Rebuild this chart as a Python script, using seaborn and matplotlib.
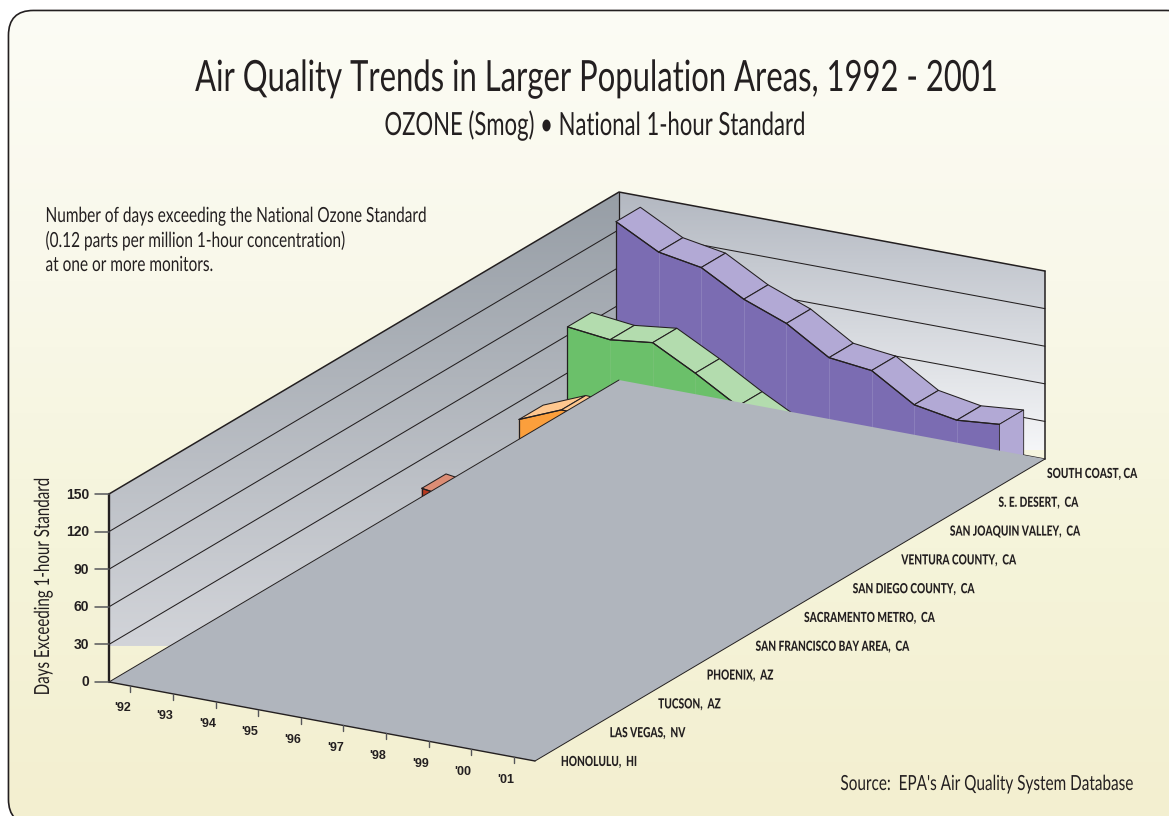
import numpy as np
import pandas as pd
import matplotlib.pyplot as plt
from matplotlib.patches import FancyBboxPatch, Polygon
from matplotlib.patheffects import AbstractPathEffect
from matplotlib.transforms import Affine2D
import seaborn as sns

sns.set_theme(style="white")
plt.rcParams["font.family"] = ["Lato", "DejaVu Sans"]

# Data, most of the chart hides behind the floor
years = ["'92", "'93", "'94", "'95", "'96", "'97", "'98", "'99", "'00", "'01"]
areas = ["HONOLULU,  HI", "LAS VEGAS,  NV", "TUCSON,  AZ", "PHOENIX,  AZ",
         "SAN FRANCISCO BAY AREA,  CA", "SACRAMENTO METRO,  CA", "SAN DIEGO COUNTY,  CA",
         "VENTURA COUNTY,  CA", "SAN JOAQUIN VALLEY,  CA", "S. E. DESERT,  CA", "SOUTH COAST, CA"]
day_ticks = [0, 30, 60, 90, 120, 150]

south_coast = [141, 123, 117, 98, 85, 64, 60, 39, 33, 36]
se_desert = [80, 76, 80, 62, 42, 24]
san_joaquin = [29, 43, 41]
san_diego = [20, 15]

INK = "#231f20"
bg_cmap = sns.blend_palette(["#fcfcf5", "#f9f8ea", "#f5f4da", "#f3efd0"], n_colors=256, as_cmap=True)
left_cmap = sns.blend_palette(["#979ea6", "#d2d4d9"], n_colors=256, as_cmap=True)
back_cmap = sns.blend_palette(["#b3b8c1", "#f5f6f8"], n_colors=256, as_cmap=True)
grad = np.linspace(0, 1, 256).reshape(-1, 1)


class Squeeze(AbstractPathEffect):
    # the original uses a condensed face, none is installed so narrow the text
    def __init__(self, k, frac):
        super().__init__()
        self.k = k
        self.frac = frac

    def draw_path(self, renderer, gc, tpath, affine, rgbFace=None):
        pivot = tpath.get_extents().x1 * self.frac
        squeeze = Affine2D().translate(-pivot, 0).scale(self.k, 1).translate(pivot, 0)
        renderer.draw_path(gc, tpath, squeeze + affine, rgbFace)


def narrow(x, y, s, width=None, k=None, frac=0.5, **kw):
    # x, y is where the visible text starts on its baseline, width its wanted length in pixels
    t = ax.text(x, y, s, va="baseline", rotation_mode="anchor", color=INK, **kw)
    box = t.get_window_extent(fig.canvas.get_renderer())
    w = max(box.width, box.height)
    if k is None:
        k = width / w
    t.set_ha({0: "left", 0.5: "center", 1: "right"}[frac])
    if kw.get("rotation"):
        t.set_y(y - k * w * frac)
    else:
        t.set_x(x + k * w * frac)
    t.set_path_effects([Squeeze(k, frac)])
    return k


def project(year, depth, days):
    # oblique view: year runs along the front, depth into the page, days upward
    x = 109 + 42.6 * np.asarray(year, float) + 48.57 * np.asarray(depth, float)
    y = 682 + 7.9 * np.asarray(year, float) - 28.76 * np.asarray(depth, float) - 1.2533 * np.asarray(days, float)
    return x, y


def poly(corners, **kw):
    pts = [project(*c) for c in corners]
    p = Polygon(pts, closed=True, **kw)
    ax.add_patch(p)
    return p


def ribbon(values, depth, face, top, line, z, cap=False):
    t = np.arange(len(values)) + 0.5
    vals = np.array(values, float)
    # front face
    front = [(a, depth, v) for a, v in zip(t, vals)] + [(t[-1], depth, 0), (t[0], depth, 0)]
    poly(front, facecolor=face, edgecolor="none", zorder=z)
    for a, v in zip(t[1:-1], vals[1:-1]):
        ax.plot(*zip(project(a, depth, v), project(a, depth, 0)), color=line, lw=0.7, zorder=z + 0.1)
    # top band
    for i in range(len(vals) - 1):
        poly([(t[i], depth, vals[i]), (t[i + 1], depth, vals[i + 1]),
              (t[i + 1], depth + 0.5, vals[i + 1]), (t[i], depth + 0.5, vals[i])],
             facecolor=top, edgecolor=INK, lw=0.75, zorder=z + 0.2)
    if cap:
        poly([(t[-1], depth, vals[-1]), (t[-1], depth + 0.5, vals[-1]),
              (t[-1], depth + 0.5, 0), (t[-1], depth, 0)], facecolor=top, edgecolor=INK, lw=0.6, zorder=z + 0.2)
    px, py = project(t, depth, vals)
    edge = pd.DataFrame({"px": px, "py": py})
    sns.lineplot(data=edge, x="px", y="py", sort=False, estimator=None, color=INK, lw=0.9, ax=ax, zorder=z + 0.3)
    ax.plot(*zip(project(t[0], depth, vals[0]), project(t[0], depth, 0)), color=INK, lw=0.9, zorder=z + 0.3)


fig = plt.figure(figsize=(11.69, 8.16), dpi=100, facecolor="white")
ax = fig.add_axes([0, 0, 1, 1])
ax.set_xlim(0, 1169)
ax.set_ylim(816, 0)

# panel with the soft vertical gradient, it runs off the right side of the page
# the image hides the inner half of the outline
panel = FancyBboxPatch((9.3, 11.3), 1181, 812, boxstyle="round,pad=0,rounding_size=24",
                       facecolor="#f9f8ea", edgecolor=INK, lw=2.4, zorder=0.5)
ax.add_patch(panel)
im = ax.imshow(grad, cmap=bg_cmap, extent=(0, 1169, 816, 10), aspect="auto", zorder=1)
im.set_clip_path(panel)

# walls, both fills stop short of the floor
wall_l = Polygon([project(0, 0, 150), project(0, 10.5, 150), project(0, 10.5, 0), project(0, 0, 0)],
                 facecolor="none", edgecolor="none")
wall_b = Polygon([project(0, 10.5, 150), project(10, 10.5, 150), project(10, 10.5, 0), project(0, 10.5, 0)],
                 facecolor="none", edgecolor="none")
ax.add_patch(wall_l)
ax.add_patch(wall_b)
im_l = ax.imshow(grad, cmap=left_cmap, extent=(100, 625, 646, 192), aspect="auto", zorder=2)
im_l.set_clip_path(wall_l)
im_b = ax.imshow(grad, cmap=back_cmap, extent=(615, 1050, 450, 192), aspect="auto", zorder=2)
im_b.set_clip_path(wall_b)

for d in day_ticks[1:]:
    lw = 1.1 if d == 150 else 0.75
    ax.plot(*zip(project(0, 0, d), project(0, 10.5, d), project(10, 10.5, d)), color=INK, lw=lw, zorder=2.5)
ax.plot(*zip(project(0, 10.5, 150), project(0, 10.5, 0)), color=INK, lw=0.9, zorder=2.5)
ax.plot(*zip(project(10, 10.5, 150), project(10, 10.5, 0)), color=INK, lw=1.1, zorder=2.5)
ax.plot(*zip(project(9.5, 10.5, 0), project(10, 10.5, 0)), color=INK, lw=0.9, zorder=2.5)

ribbon(south_coast, 10, "#7b6cb2", "#b2a9d5", "#8b7fbc", 3, cap=True)
ribbon(se_desert, 9, "#6bc06a", "#b3dcae", "#76c274", 3.5)
ribbon(san_joaquin, 8, "#fb9f3c", "#fec78f", "#fb9f3c", 4)
ribbon(san_diego, 6, "#b83a20", "#dc8d75", "#b83a20", 4.5)

# the floor sits on top of everything
poly([(0, 0, 0), (10, 0, 0), (10, 10.5, 0), (0, 10.5, 0)], facecolor="#b0b5bd", edgecolor="none", zorder=5)
ax.plot(*zip(project(0, 10.5, 0), project(0, 0, 0)), color=INK, lw=0.7, zorder=5.1)
ax.plot(*zip(project(10, 0, 0), project(10, 10.5, 0)), color=INK, lw=0.7, zorder=5.1)
ax.plot(*zip(project(0, 0, 0), project(10, 0, 0)), color=INK, lw=1.0, zorder=5.1)

# day axis
ax.plot(*zip(project(0, 0, 0), project(0, 0, 150)), color=INK, lw=1.7, zorder=5.2)
for d in day_ticks:
    x, y = project(0, 0, d)
    ax.plot([x - 14, x], [y, y], color="#55565a", lw=1.1, zorder=5.2)
    ax.text(x - 20, y + 0.5, str(d), ha="right", va="center", fontsize=10, fontweight="bold",
            family="Liberation Sans", color=INK)

# year ticks
for i, lab in enumerate(years):
    x, y = project(i + 0.5, 0, 0)
    ax.plot([x, x], [y, y + 6], color="#55565a", lw=1, zorder=5.2)
    ax.text(x - 8, y + 22.5, lab, ha="center", va="center", fontsize=9, fontweight="bold",
            family="Liberation Sans", color=INK)

# area labels follow the right floor edge
k_area = None
for i in [4, 0, 1, 2, 3, 5, 6, 7, 8, 9, 10]:
    k_area = narrow(561 + 48.6 * i, 766 - 28.8 * i, areas[i], width=None if k_area else 153, k=k_area,
                    fontsize=10, fontweight="black")

narrow(195, 91, "Air Quality Trends in Larger Population Areas, 1992 - 2001", width=800, fontsize=31)
narrow(385, 135, "OZONE (Smog) • National 1-hour Standard", width=422, fontsize=23)
k_note = narrow(45.5, 222, "Number of days exceeding the National Ozone Standard", width=382, frac=0, fontsize=15)
narrow(45.5, 247, "(0.12 parts per million 1-hour concentration)", k=k_note, frac=0, fontsize=15)
narrow(45.5, 271, "at one or more monitors.", k=k_note, frac=0, fontsize=15)
narrow(49, 695, "Days Exceeding 1-hour Standard", width=218, fontsize=15, rotation=90)
narrow(841, 790, "Source:  EPA's Air Quality System Database", width=294, frac=1, fontsize=15)

ax.set_xlim(0, 1169)
ax.set_ylim(816, 0)
ax.axis("off")

plt.savefig("out.png", dpi=100, facecolor="white")
